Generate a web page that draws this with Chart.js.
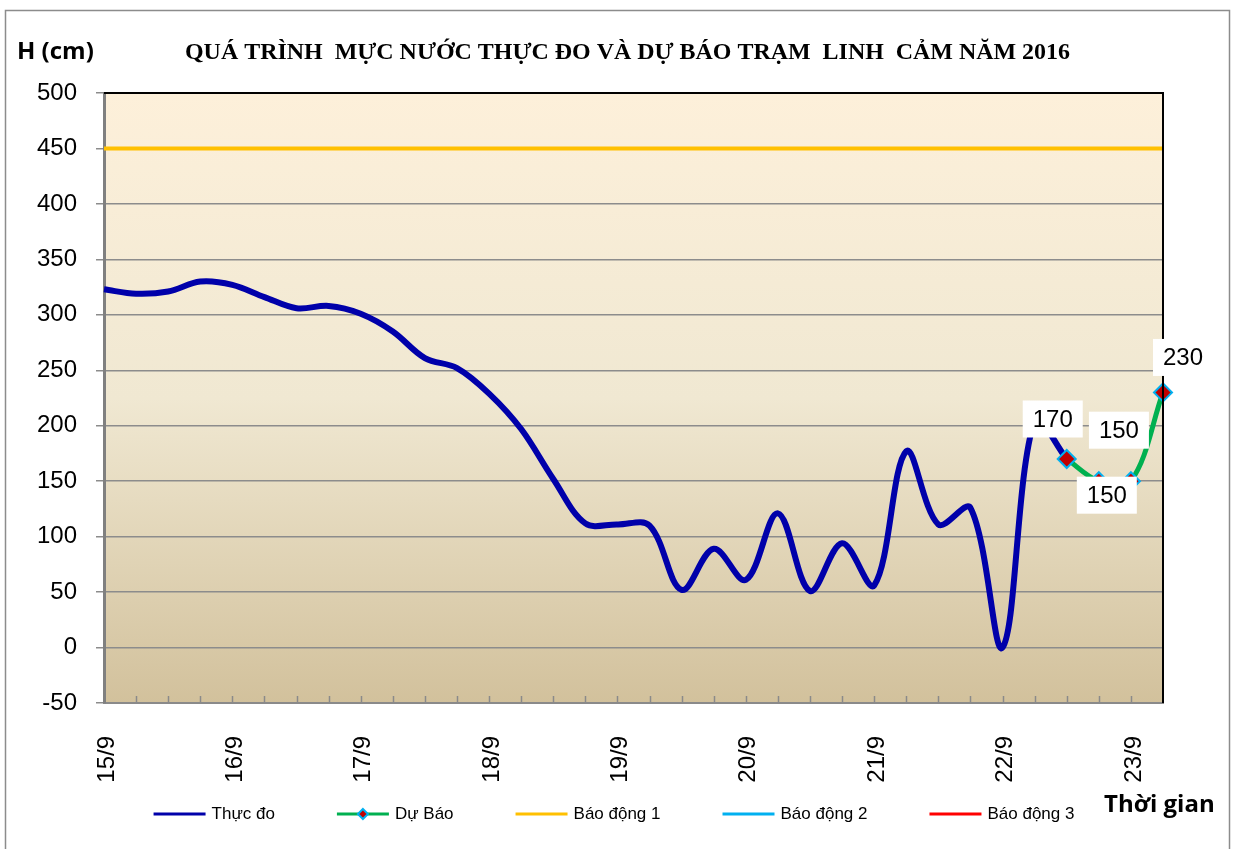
<!DOCTYPE html>
<html>
<head>
<meta charset="utf-8">
<script src="https://cdn.jsdelivr.net/npm/chart.js@4.4.1/dist/chart.umd.min.js"></script>
<style>
  html, body { margin: 0; padding: 0; background: #ffffff; }
  #wrap { position: relative; width: 1237px; height: 849px; overflow: hidden; }
  canvas { display: block; }
</style>
</head>
<body>
<div id="wrap"><canvas id="c" width="1237" height="849"></canvas></div>
<script>
// ---------------- DATA ----------------
const categories = [
  '15/9 00h','15/9 06h','15/9 12h','15/9 18h',
  '16/9 00h','16/9 06h','16/9 12h','16/9 18h',
  '17/9 00h','17/9 06h','17/9 12h','17/9 18h',
  '18/9 00h','18/9 06h','18/9 12h','18/9 18h',
  '19/9 00h','19/9 06h','19/9 12h','19/9 18h',
  '20/9 00h','20/9 06h','20/9 12h','20/9 18h',
  '21/9 00h','21/9 06h','21/9 12h','21/9 18h',
  '22/9 00h','22/9 06h','22/9 12h','22/9 18h',
  '23/9 00h','23/9 06h'
];
const dayLabels = ['15/9','16/9','17/9','18/9','19/9','20/9','21/9','22/9','23/9'];
const yTicks = [-50, 0, 50, 100, 150, 200, 250, 300, 350, 400, 450, 500];

// Thực đo (observed), every 6 hours from 15/9 00h
const observed = [
  323, 319, 321, 330,
  327, 316, 306, 308,
  301, 285, 261, 252,
  229, 197, 152, 112,
  111, 110, 52, 89,
  61, 121, 51, 94,
  56, 177, 111, 126,
  0, 205, 170
];
// Dự Báo (forecast), starting at 22/9 12h
const forecastStart = 30;
const forecast = [170, 150, 150, 230];
// Báo động 1 level
const alarm1 = 450;

// ---------------- STYLE / LAYOUT ----------------
const PLOT = { left: 104, right: 1163, top: 93, bottom: 703 };
const labelOffsets = [[-14, -40], [8, 14], [-12, -51], [20, -35]];

const forecastData = forecast.map((v, k) => ({ x: categories[forecastStart + k], y: v }));
const alarm1Data = [{ x: categories[0], y: alarm1 }, { x: categories[categories.length - 1], y: alarm1 }];

const bgPlugin = {
  id: 'plotBg',
  beforeDraw(chart) {
    const { ctx, chartArea: a } = chart;
    const g = ctx.createLinearGradient(0, a.top, 0, a.bottom);
    g.addColorStop(0, '#FDF0DA');
    g.addColorStop(0.5, '#F0E8D2');
    g.addColorStop(1, '#D2C19C');
    ctx.save();
    ctx.fillStyle = g;
    ctx.fillRect(a.left, a.top, a.right - a.left, a.bottom - a.top);
    ctx.restore();
  },
  beforeDatasetsDraw(chart) {
    const { ctx, chartArea: a } = chart;
    const xs = chart.scales.x;
    ctx.save();
    ctx.strokeStyle = '#8a8a8a';
    ctx.lineWidth = 1.5;
    ctx.beginPath();
    for (let i = 1; i < categories.length - 1; i++) {
      const px = Math.round(xs.getPixelForValue(i)) + 0.5;
      ctx.moveTo(px, a.bottom);
      ctx.lineTo(px, a.bottom - 7);
    }
    ctx.stroke();
    ctx.restore();
  },
  afterDatasetsDraw(chart) {
    const { ctx, chartArea: a } = chart;
    ctx.save();
    // top and right black border
    ctx.strokeStyle = '#000000';
    ctx.lineWidth = 2;
    ctx.beginPath();
    ctx.moveTo(a.left, a.top);
    ctx.lineTo(a.right, a.top);
    ctx.lineTo(a.right, a.bottom);
    ctx.stroke();
    // data labels for forecast
    const meta = chart.getDatasetMeta(1);
    ctx.font = '24px "Liberation Sans", Arial, sans-serif';
    ctx.textAlign = 'center';
    ctx.textBaseline = 'middle';
    meta.data.forEach((pt, k) => {
      const [dx, dy] = labelOffsets[k];
      const cx = pt.x + dx, cy = pt.y + dy;
      ctx.fillStyle = '#ffffff';
      ctx.fillRect(cx - 30, cy - 18.5, 60, 37);
      ctx.fillStyle = '#000000';
      ctx.fillText(String(forecast[k]), cx, cy + 1);
    });
    ctx.restore();
  },
  afterDraw(chart) {
    const { ctx } = chart;
    ctx.save();
    // outer frame
    ctx.strokeStyle = '#8c8c8c';
    ctx.lineWidth = 1.5;
    ctx.strokeRect(5.5, 10.5, 1224, 860);
    // title
    const title = 'QUÁ TRÌNH  MỰC NƯỚC THỰC ĐO VÀ DỰ BÁO TRẠM  LINH  CẢM NĂM 2016';
    ctx.font = 'bold 24px "Liberation Serif", "Times New Roman", serif';
    ctx.fillStyle = '#000000';
    ctx.textBaseline = 'alphabetic';
    ctx.textAlign = 'left';
    const w = ctx.measureText(title).width;
    const target = 885;
    ctx.save();
    ctx.translate(185, 59);
    ctx.scale(target / w, 1);
    ctx.fillText(title, 0, 0);
    ctx.restore();
    // axis titles
    ctx.font = 'bold 24px "Open Sans", sans-serif';
    ctx.fillText('H (cm)', 17, 59);
    ctx.font = 'bold 24px "Open Sans", sans-serif';
    ctx.fillText('Thời gian', 1104, 812);
    // legend
    ctx.font = '17px "Liberation Sans", Arial, sans-serif';
    ctx.textBaseline = 'middle';
    const lineLen = 52, textGap = 6, itemGap = 62, ly = 814, center = 614;
    const items = chart.data.datasets.map(ds => ({
      label: ds.label, color: ds.borderColor, marker: ds.pointStyle === 'rectRot' ? ds : null,
      w: lineLen + textGap + ctx.measureText(ds.label).width
    }));
    const total = items.reduce((s, it) => s + it.w, 0) + itemGap * (items.length - 1);
    let x = center - total / 2;
    items.forEach(it => {
      ctx.strokeStyle = it.color;
      ctx.lineWidth = 3;
      ctx.beginPath();
      ctx.moveTo(x, ly);
      ctx.lineTo(x + lineLen, ly);
      ctx.stroke();
      if (it.marker) {
        const mx = x + lineLen / 2, r = 5;
        ctx.beginPath();
        ctx.moveTo(mx, ly - r); ctx.lineTo(mx + r, ly); ctx.lineTo(mx, ly + r); ctx.lineTo(mx - r, ly); ctx.closePath();
        ctx.fillStyle = it.marker.pointBackgroundColor;
        ctx.fill();
        ctx.strokeStyle = it.marker.pointBorderColor;
        ctx.lineWidth = 2;
        ctx.stroke();
      }
      ctx.fillStyle = '#000000';
      ctx.fillText(it.label, x + lineLen + textGap, ly);
      x += it.w + itemGap;
    });
    ctx.restore();
  }
};

new Chart(document.getElementById('c'), {
  type: 'line',
  data: {
    labels: categories,
    datasets: [
      {
        label: 'Thực đo', data: observed, borderColor: '#0000AA', backgroundColor: '#0000AA',
        borderWidth: 6, pointRadius: 0, tension: 0.35, order: 2, fill: false
      },
      {
        label: 'Dự Báo', data: forecastData, borderColor: '#00B050', backgroundColor: '#00B050',
        borderWidth: 5, pointStyle: 'rectRot', pointRadius: 9, pointBackgroundColor: '#C00000',
        pointBorderColor: '#00B0F0', pointBorderWidth: 2, tension: 0.35, order: 1, clip: false, fill: false
      },
      {
        label: 'Báo động 1', data: alarm1Data, borderColor: '#FFC000', backgroundColor: '#FFC000',
        borderWidth: 4, pointRadius: 0, tension: 0, order: 3, fill: false
      },
      {
        label: 'Báo động 2', data: [], borderColor: '#00B0F0', backgroundColor: '#00B0F0',
        borderWidth: 3, pointRadius: 0, order: 4
      },
      {
        label: 'Báo động 3', data: [], borderColor: '#FF0000', backgroundColor: '#FF0000',
        borderWidth: 3, pointRadius: 0, order: 5
      }
    ]
  },
  options: {
    responsive: false,
    animation: false,
    devicePixelRatio: 1,
    layout: { padding: { top: PLOT.top, right: 1237 - PLOT.right, bottom: 0, left: 0 } },
    plugins: { legend: { display: false }, title: { display: false }, tooltip: { enabled: false } },
    scales: {
      x: {
        type: 'category',
        offset: false,
        afterFit(s) { s.height = 849 - PLOT.bottom; },
        grid: { display: true, drawOnChartArea: false, drawTicks: false },
        border: { display: true, color: '#8a8a8a', width: 2 },
        ticks: {
          autoSkip: false, minRotation: 90, maxRotation: 90, padding: 33, labelOffset: 3,
          color: '#000000', font: { family: '"Liberation Sans", Arial, sans-serif', size: 24 },
          callback(value, index) { return index % 4 === 0 ? dayLabels[index / 4] : ''; }
        }
      },
      y: {
        min: yTicks[0], max: yTicks[yTicks.length - 1],
        afterFit(s) { s.width = PLOT.left; },
        afterBuildTicks(s) { s.ticks = yTicks.map(v => ({ value: v })); },
        grid: { color: '#8c8c8c', lineWidth: 1.5, tickLength: 8, drawTicks: true },
        border: { display: true, color: '#808080', width: 3 },
        ticks: {
          padding: 19, color: '#000000',
          font: { family: '"Liberation Sans", Arial, sans-serif', size: 24 }
        }
      }
    }
  },
  plugins: [bgPlugin]
});
</script>
</body>
</html>
